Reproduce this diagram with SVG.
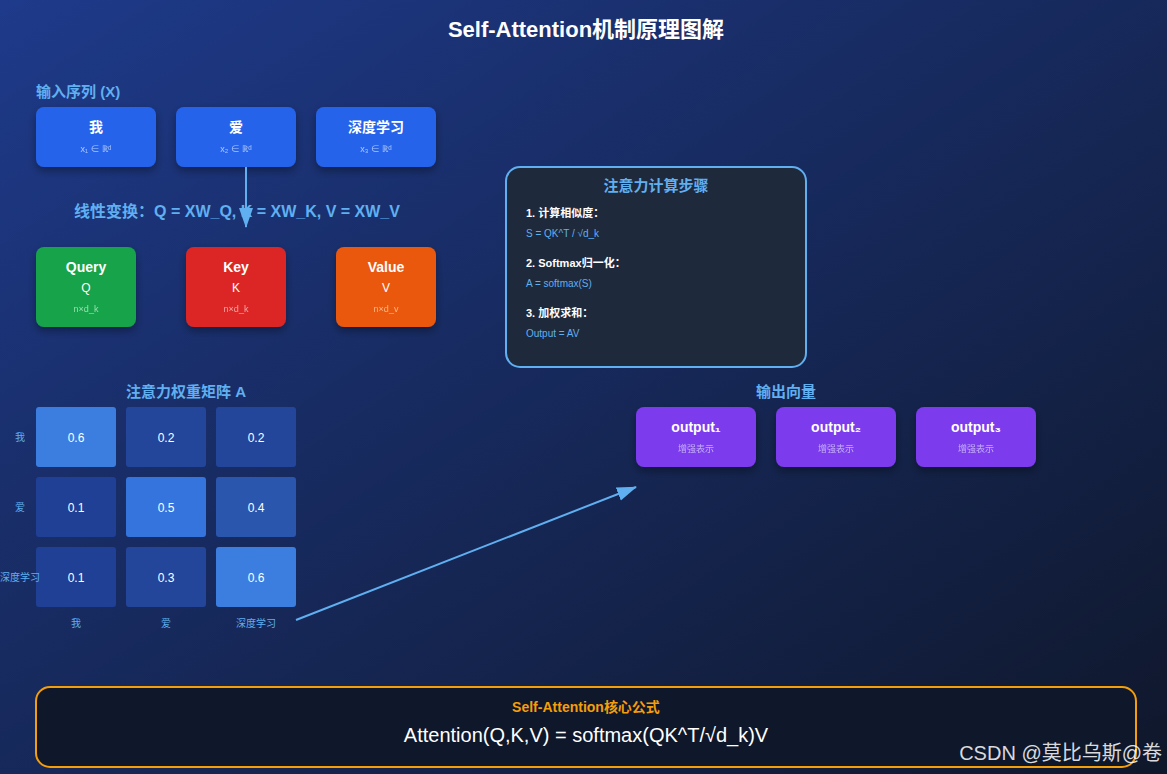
<svg xmlns="http://www.w3.org/2000/svg" width="1167" height="774" viewBox="0 0 1167 774">
<defs>
<linearGradient id="bg" x1="0" y1="0" x2="1" y2="1"><stop offset="0" stop-color="#1e3a8a"/><stop offset="1" stop-color="#0f172a"/></linearGradient>
<marker id="ah" markerWidth="10" markerHeight="10" refX="9" refY="5" orient="auto" markerUnits="userSpaceOnUse" viewBox="0 0 10 10"><path d="M0,0 L10,5 L0,10 z" fill="#60aff0"/></marker>
<marker id="ah2" markerWidth="20" markerHeight="20" refX="19" refY="10" orient="auto" markerUnits="userSpaceOnUse" viewBox="0 0 20 20"><path d="M0,3 L20,10 L0,17 z" fill="#60aff0"/></marker>
<filter id="sh" x="-20%" y="-20%" width="140%" height="150%"><feDropShadow dx="0" dy="4" stdDeviation="4" flood-color="#000" flood-opacity="0.35"/></filter>
</defs>
<style>
text{font-family:"Liberation Sans","Noto Sans CJK SC",sans-serif;text-anchor:middle}
.t{font-weight:bold;fill:#fff;font-size:14px}
.s{fill:#dbeafe;font-size:9px;opacity:.75}
.h{font-weight:bold;fill:#60aff0;font-size:16px}
.c{fill:#fff;font-size:12px}
.l{fill:#60aff0;font-size:10px}
.st{text-anchor:start;font-size:11px}
</style>
<rect width="1167" height="774" fill="url(#bg)"/>
<text x="586" y="37" font-size="22" font-weight="bold" fill="#fff">Self-Attention机制原理图解</text>
<text x="36" y="97" class="h" style="text-anchor:start;font-size:15px">输入序列 (X)</text>
<g id="x1"><rect x="36" y="107" width="120" height="60" rx="8" fill="#2563eb" filter="url(#sh)"/><text x="96" y="132" class="t">我</text><text x="96" y="152" class="s">x₁ ∈ ℝᵈ</text></g>
<g id="x2"><rect x="176" y="107" width="120" height="60" rx="8" fill="#2563eb" filter="url(#sh)"/><text x="236" y="132" class="t">爱</text><text x="236" y="152" class="s">x₂ ∈ ℝᵈ</text></g>
<g id="x3"><rect x="316" y="107" width="120" height="60" rx="8" fill="#2563eb" filter="url(#sh)"/><text x="376" y="132" class="t">深度学习</text><text x="376" y="152" class="s">x₃ ∈ ℝᵈ</text></g>
<text x="237" y="217" class="h">线性变换：Q = XW_Q, K = XW_K, V = XW_V</text>
<g id="q"><rect x="36" y="247" width="100" height="80" rx="8" fill="#16a34a" filter="url(#sh)"/><text x="86" y="272" class="t">Query</text><text x="86" y="292" class="c">Q</text><text x="86" y="312" class="s" style="fill:#bbf7d0">n×d_k</text></g>
<g id="k"><rect x="186" y="247" width="100" height="80" rx="8" fill="#dc2626" filter="url(#sh)"/><text x="236" y="272" class="t">Key</text><text x="236" y="292" class="c">K</text><text x="236" y="312" class="s" style="fill:#fecaca">n×d_k</text></g>
<g id="v"><rect x="336" y="247" width="100" height="80" rx="8" fill="#ea580c" filter="url(#sh)"/><text x="386" y="272" class="t">Value</text><text x="386" y="292" class="c">V</text><text x="386" y="312" class="s" style="fill:#fed7aa">n×d_v</text></g>
<g id="steps"><rect x="506" y="167" width="300" height="200" rx="14" fill="#1e293b" stroke="#60aff0" stroke-width="2"/>
<text x="656" y="191" class="h" style="font-size:15px">注意力计算步骤</text>
<text x="526" y="217" class="st" font-weight="bold" fill="#fff">1. 计算相似度：</text>
<text x="526" y="237" class="st" fill="#60aff0" style="font-size:10px">S = QK^T / √d_k</text>
<text x="526" y="267" class="st" font-weight="bold" fill="#fff">2. Softmax归一化：</text>
<text x="526" y="287" class="st" fill="#60aff0" style="font-size:10px">A = softmax(S)</text>
<text x="526" y="317" class="st" font-weight="bold" fill="#fff">3. 加权求和：</text>
<text x="526" y="337" class="st" fill="#60aff0" style="font-size:10px">Output = AV</text></g>
<text x="186" y="397" class="h" style="font-size:15px">注意力权重矩阵 A</text>
<g id="matrix">
<rect x="36" y="407" width="80" height="60" rx="3" fill="#3b7ee0"/><text x="76" y="442" class="c">0.6</text>
<rect x="126" y="407" width="80" height="60" rx="3" fill="#24469a"/><text x="166" y="442" class="c">0.2</text>
<rect x="216" y="407" width="80" height="60" rx="3" fill="#24469a"/><text x="256" y="442" class="c">0.2</text>
<rect x="36" y="477" width="80" height="60" rx="3" fill="#1f4094"/><text x="76" y="512" class="c">0.1</text>
<rect x="126" y="477" width="80" height="60" rx="3" fill="#3574dc"/><text x="166" y="512" class="c">0.5</text>
<rect x="216" y="477" width="80" height="60" rx="3" fill="#2a56ae"/><text x="256" y="512" class="c">0.4</text>
<rect x="36" y="547" width="80" height="60" rx="3" fill="#1f4094"/><text x="76" y="582" class="c">0.1</text>
<rect x="126" y="547" width="80" height="60" rx="3" fill="#24469a"/><text x="166" y="582" class="c">0.3</text>
<rect x="216" y="547" width="80" height="60" rx="3" fill="#3b7ee0"/><text x="256" y="582" class="c">0.6</text>
<text x="20" y="441" class="l">我</text><text x="20" y="511" class="l">爱</text><text x="20" y="581" class="l">深度学习</text>
<text x="76" y="627" class="l">我</text><text x="166" y="627" class="l">爱</text><text x="256" y="627" class="l">深度学习</text>
</g>
<text x="786" y="397" class="h" style="font-size:15px">输出向量</text>
<g id="o1"><rect x="636" y="407" width="120" height="60" rx="8" fill="#7c3aed" filter="url(#sh)"/><text x="696" y="432" class="t">output₁</text><text x="696" y="452" class="s" style="fill:#ddd6fe">增强表示</text></g>
<g id="o2"><rect x="776" y="407" width="120" height="60" rx="8" fill="#7c3aed" filter="url(#sh)"/><text x="836" y="432" class="t">output₂</text><text x="836" y="452" class="s" style="fill:#ddd6fe">增强表示</text></g>
<g id="o3"><rect x="916" y="407" width="120" height="60" rx="8" fill="#7c3aed" filter="url(#sh)"/><text x="976" y="432" class="t">output₃</text><text x="976" y="452" class="s" style="fill:#ddd6fe">增强表示</text></g>
<g id="connectors" stroke="#60aff0" stroke-width="2" fill="none">
<line x1="246" y1="167" x2="246" y2="227" marker-end="url(#ah2)"/>
<line x1="296" y1="620" x2="636" y2="487" marker-end="url(#ah2)"/>
</g>
<g id="formula"><rect x="36" y="687" width="1100" height="80" rx="14" fill="#0f172a" stroke="#f59e0b" stroke-width="2"/>
<text x="586" y="712" font-size="14" font-weight="bold" fill="#f59e0b">Self-Attention核心公式</text>
<text x="586" y="742" font-size="20" fill="#fff">Attention(Q,K,V) = softmax(QK^T/√d_k)V</text></g>
<text x="1162" y="760" font-size="20" fill="#fff" fill-opacity="0.85" style="text-anchor:end">CSDN @莫比乌斯@卷</text>
</svg>
